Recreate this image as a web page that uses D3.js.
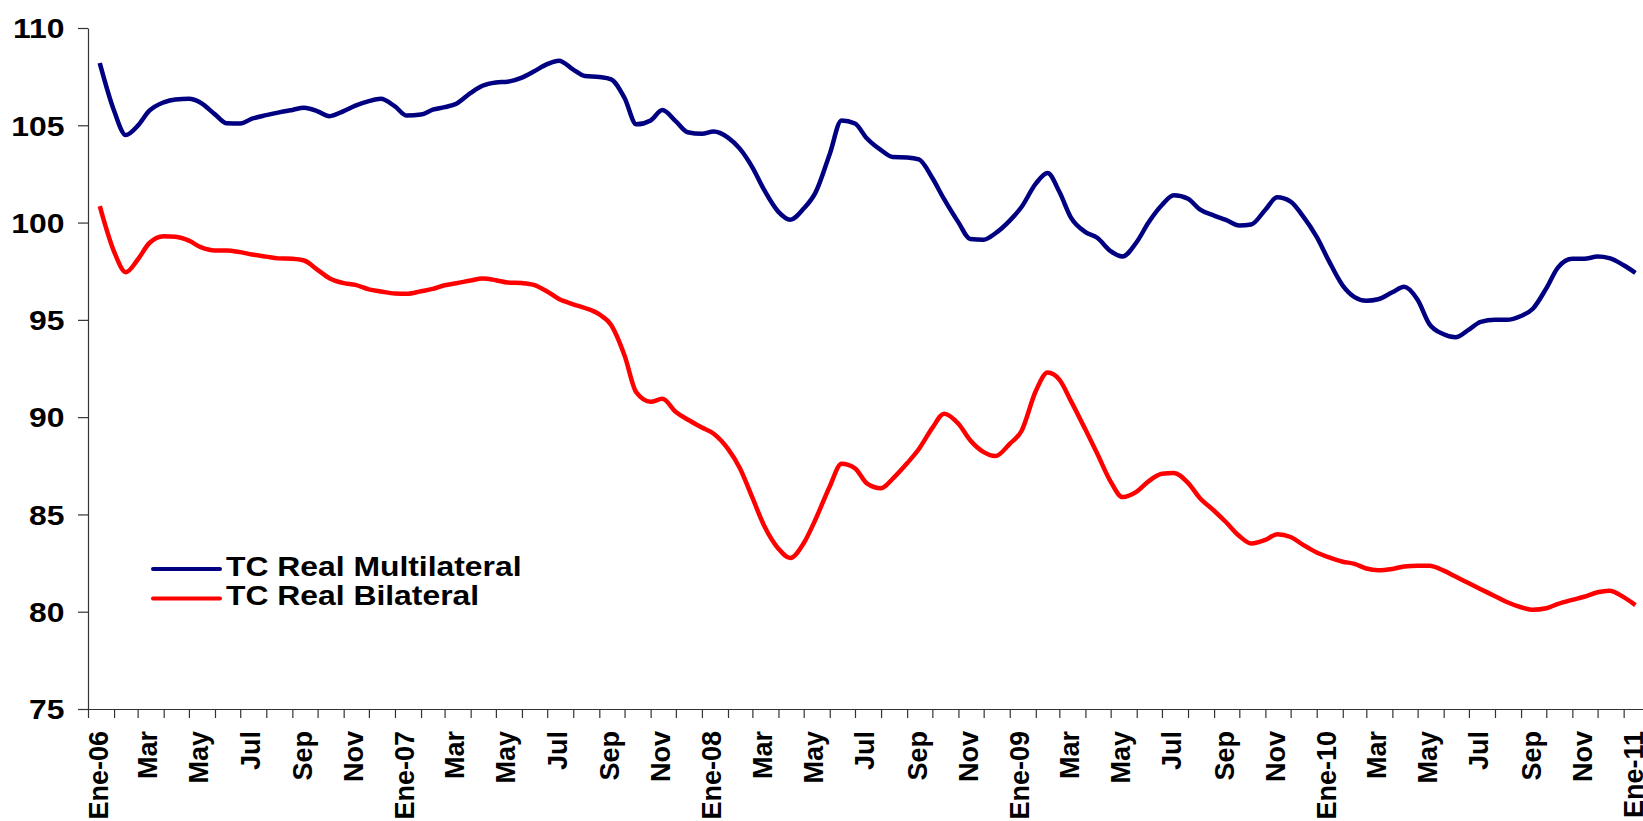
<!DOCTYPE html>
<html>
<head>
<meta charset="utf-8">
<script src="https://cdn.jsdelivr.net/npm/d3@7"></script>
<style>
  html, body { margin: 0; padding: 0; background: #fff; }
  svg { display: block; }
</style>
</head>
<body>
<svg id="chart" width="1643" height="821"></svg>
<script>
// ---------------- DATA ----------------
const seriesNames = ["TC Real Multilateral", "TC Real Bilateral"];
const seriesColors = ["#000080", "#ff0000"];
const yTicks = [75, 80, 85, 90, 95, 100, 105, 110];
const tickLabels = ["Ene-06","Mar","May","Jul","Sep","Nov",
                    "Ene-07","Mar","May","Jul","Sep","Nov",
                    "Ene-08","Mar","May","Jul","Sep","Nov",
                    "Ene-09","Mar","May","Jul","Sep","Nov",
                    "Ene-10","Mar","May","Jul","Sep","Nov",
                    "Ene-11"];

// semi-monthly observations: 15 Jan 2006, then the 1st and 15th of each month up to 15 Jan 2011
const multilateral = [
  // 2006
  108.2, 105.75, 104.5, 104.97, 105.75, 106.18, 106.33, 106.36, 106.16, 105.56, 105.1, 105.09,
  105.34, 105.52, 105.65, 105.79, 105.9, 105.72, 105.47, 105.73, 106.01, 106.24, 106.36,
  // 2007
  105.97, 105.5, 105.55, 105.8, 105.93, 106.11, 106.66, 107.03, 107.2, 107.24, 107.45, 107.76,
  108.14, 108.32, 107.86, 107.53, 107.48, 107.36, 106.4, 105.05, 105.25, 105.78, 105.2, 104.64,
  // 2008
  104.56, 104.68, 104.37, 103.8, 102.84, 101.68, 100.55, 100.15, 100.72, 101.54, 103.53, 105.25,
  105.09, 104.33, 103.72, 103.37, 103.35, 103.25, 102.29, 101.2, 100.01, 99.16, 99.12, 99.45,
  // 2009
  100.1, 100.8, 102.0, 102.55, 101.58, 100.24, 99.51, 99.22, 98.53, 98.26, 99.0, 100.0,
  100.9, 101.4, 101.22, 100.68, 100.36, 100.14, 99.85, 99.9, 100.66, 101.3, 101.08, 100.37,
  // 2010
  99.26, 98.07, 96.76, 96.17, 95.98, 96.06, 96.42, 96.7, 96.03, 94.78, 94.26, 94.1,
  94.5, 94.9, 95.0, 95.0, 95.2, 95.57, 96.62, 97.7, 98.14, 98.14, 98.25, 98.17,
  // 2011
  97.81, 97.42
];

const bilateral = [
  // 2006
  100.85, 98.51, 97.45, 98.09, 98.95, 99.3, 99.27, 99.07, 98.74, 98.57, 98.57, 98.48,
  98.36, 98.25, 98.16, 98.14, 98.05, 97.57, 97.14, 96.89, 96.8, 96.57, 96.46,
  // 2007
  96.35, 96.34, 96.47, 96.59, 96.78, 96.88, 97.02, 97.12, 97.04, 96.92, 96.89, 96.8,
  96.46, 96.07, 95.8, 95.61, 95.28, 94.74, 93.17, 91.27, 90.79, 90.94, 90.27, 89.88,
  // 2008
  89.47, 89.15, 88.37, 87.39, 85.86, 84.42, 83.24, 82.76, 83.52, 84.74, 86.44, 87.6,
  87.37, 86.6, 86.35, 86.84, 87.63, 88.36, 89.45, 90.18, 89.66, 88.81, 88.2, 88.0,
  // 2009
  88.63, 89.29, 91.34, 92.29, 91.93, 90.81, 89.36, 88.13, 86.69, 85.89, 86.17, 86.7,
  87.09, 87.13, 86.62, 85.85, 85.19, 84.61, 83.89, 83.51, 83.69, 83.98, 83.84, 83.46,
  // 2010
  83.04, 82.8, 82.57, 82.46, 82.22, 82.13, 82.2, 82.32, 82.36, 82.36, 82.11, 81.81,
  81.46, 81.16, 80.8, 80.5, 80.23, 80.1, 80.18, 80.4, 80.61, 80.77, 81.0, 81.08,
  // 2011
  80.75, 80.34
];

const dates = [new Date(2006, 0, 15)];
for (let m = 1; m <= 60; m++) {
  dates.push(new Date(2006, m, 1));
  dates.push(new Date(2006, m, 15));
}

// ---------------- CHART ----------------
const svg = d3.select("#chart");
const FONT = "'Liberation Sans', Arial, Helvetica, sans-serif";

const x = d3.scaleTime()
  .domain([new Date(2006, 0, 1), new Date(2011, 0, 24)])
  .range([88, 1643]);
const y = d3.scaleLinear()
  .domain([75, 110])
  .range([709, 28]);

// X axis
const monthTicks = d3.timeMonth.range(new Date(2006, 0, 1), new Date(2011, 0, 2));
const xAxis = d3.axisBottom(x)
  .tickValues(monthTicks)
  .tickSize(9)
  .tickSizeOuter(0)
  .tickFormat((d, i) => (i % 2 === 0 ? tickLabels[i / 2] : ""));

const gx = svg.append("g")
  .attr("transform", "translate(0,709)")
  .call(xAxis);
gx.selectAll("path.domain").attr("stroke", "#333").attr("stroke-width", 1.2);
gx.selectAll(".tick line").attr("stroke", "#333").attr("stroke-width", 1.2);
gx.selectAll(".tick text")
  .attr("font-family", FONT)
  .attr("font-weight", "bold")
  .attr("font-size", 27)
  .attr("fill", "#000")
  .attr("text-anchor", "end")
  .attr("transform", "rotate(-90) scale(1,1.05)")
  .attr("x", -22)
  .attr("y", 19 / 1.05)
  .attr("dy", 0);

// Y axis
const yAxis = d3.axisLeft(y)
  .tickValues(yTicks)
  .tickSize(10)
  .tickSizeOuter(0)
  .tickFormat(d3.format("d"));

const gy = svg.append("g")
  .attr("transform", "translate(88,0)")
  .call(yAxis);
gy.selectAll("path.domain").attr("stroke", "#333").attr("stroke-width", 1.2);
gy.selectAll(".tick line").attr("stroke", "#333").attr("stroke-width", 1.2);
gy.selectAll(".tick text")
  .attr("font-family", FONT)
  .attr("font-weight", "bold")
  .attr("font-size", 27)
  .attr("fill", "#000")
  .attr("text-anchor", "end")
  .attr("transform", "scale(1.18,1)")
  .attr("x", -23.5 / 1.18)
  .attr("dy", "0.36em");

// Lines
const line = d3.line()
  .x((d, i) => x(dates[i]))
  .y(d => y(d))
  .curve(d3.curveMonotoneX);

[multilateral, bilateral].forEach((vals, k) => {
  svg.append("path")
    .datum(vals)
    .attr("fill", "none")
    .attr("stroke", seriesColors[k])
    .attr("stroke-width", 4.5)
    .attr("stroke-linejoin", "round")
    .attr("d", line);
});

// Legend
const legendRows = [569, 598.5];
const legendBase = [575.5, 605];
seriesNames.forEach((name, k) => {
  svg.append("line")
    .attr("x1", 153).attr("x2", 220)
    .attr("y1", legendRows[k]).attr("y2", legendRows[k])
    .attr("stroke", seriesColors[k])
    .attr("stroke-width", 4)
    .attr("stroke-linecap", "round");
  svg.append("text")
    .attr("transform", `translate(226,${legendBase[k]}) scale(1.18,1)`)
    .attr("font-family", FONT)
    .attr("font-weight", "bold")
    .attr("font-size", 27)
    .attr("fill", "#000")
    .text(name);
});
</script>
</body>
</html>
